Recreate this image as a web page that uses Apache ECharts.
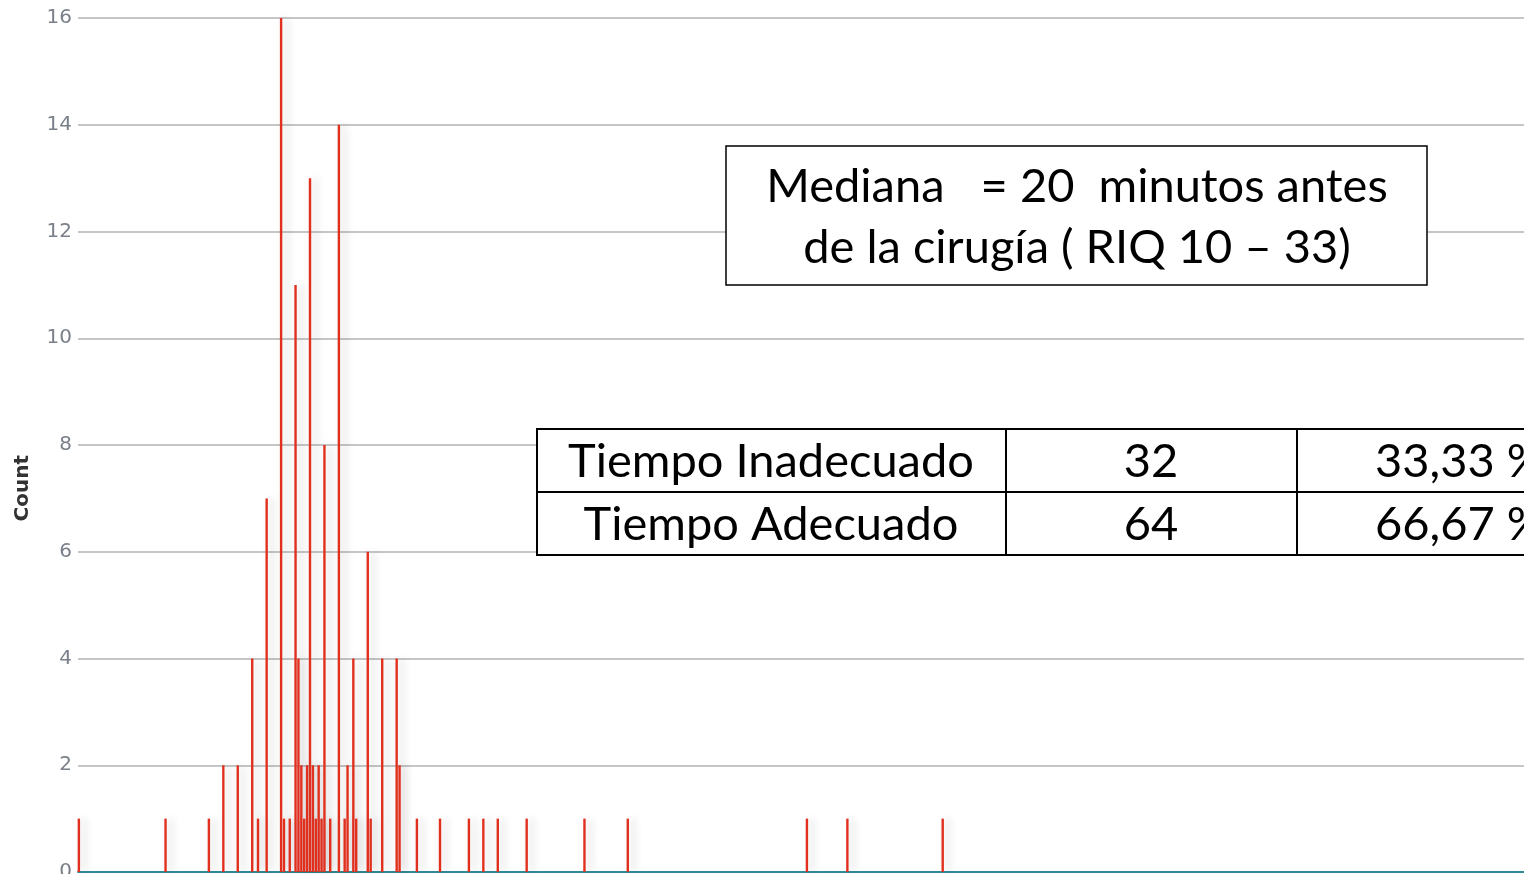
<!DOCTYPE html>
<html>
<head>
<meta charset="utf-8">
<title>Tiempo de profilaxis antes de la cirugía</title>
<script src="https://cdn.jsdelivr.net/npm/echarts/dist/echarts.min.js"></script>
<style>
  html, body { margin: 0; padding: 0; background: #ffffff; }
  #chart { width: 1524px; height: 874px; }
</style>
</head>
<body>
<div id="chart"></div>
<script>
// Minutes before surgery (x) and number of cases at each value (bar height)
const minutes = [-60, -30, -15, -10, -5, 0, 2, 5, 10, 11, 13, 15, 16, 17, 18, 19, 20, 21, 22, 23, 24,
                 25, 27, 30, 32, 33, 35, 36, 40, 41, 45, 50, 51, 57, 65, 75, 80, 85, 95, 115, 130,
                 192, 206, 239];
const counts  = [1, 1, 1, 2, 2, 4, 1, 7, 16, 1, 1, 11, 4, 2, 1, 2, 13, 2, 1, 2, 1,
                 8, 1, 14, 1, 2, 4, 1, 6, 1, 4, 4, 2, 1, 1, 1, 1, 1, 1, 1, 1,
                 1, 1, 1];

// Count axis
const yMin = 0;
const yMax = 16;
const yStep = 2;
const yAxisTitle = 'Count';

// Summary box text
const summaryLines = ['Mediana   = 20  minutos antes', 'de la cirugía ( RIQ 10 – 33)'];

// Adequacy table
const tableLabels = ['Tiempo Inadecuado', 'Tiempo Adecuado'];
const tableCounts = ['32', '64'];
const tablePercents = ['33,33 %', '66,67 %'];

const barData = minutes.map((m, i) => [m, counts[i]]);

const chart = echarts.init(document.getElementById('chart'), null, { renderer: 'canvas' });

const textFont = 'Lato, "Open Sans", sans-serif';
const bigSize = 47;

const graphics = [
  // Count axis title
  {
    type: 'text', left: 13, top: 455, rotation: Math.PI / 2, z: 100,
    style: { text: yAxisTitle, font: 'bold 20px "DejaVu Sans", sans-serif', fill: '#333333' }
  },
  // Summary box
  {
    type: 'rect', z: 100,
    shape: { x: 726, y: 146, width: 701, height: 139 },
    style: { fill: '#ffffff', stroke: '#000000', lineWidth: 1.5 }
  },
  {
    type: 'text', z: 101, x: 1077, y: 187,
    style: { text: summaryLines[0], font: bigSize + 'px ' + textFont, fill: '#000000',
             textAlign: 'center', textVerticalAlign: 'middle' }
  },
  {
    type: 'text', z: 101, x: 1077, y: 248,
    style: { text: summaryLines[1], font: bigSize + 'px ' + textFont, fill: '#000000',
             textAlign: 'center', textVerticalAlign: 'middle' }
  },
  // Table frame and rules
  {
    type: 'rect', z: 100,
    shape: { x: 537, y: 429, width: 1100, height: 126 },
    style: { fill: '#ffffff', stroke: '#000000', lineWidth: 2 }
  },
  {
    type: 'line', z: 101,
    shape: { x1: 537, y1: 492, x2: 1640, y2: 492 },
    style: { stroke: '#000000', lineWidth: 2 }
  },
  {
    type: 'line', z: 101,
    shape: { x1: 1006, y1: 429, x2: 1006, y2: 555 },
    style: { stroke: '#000000', lineWidth: 2 }
  },
  {
    type: 'line', z: 101,
    shape: { x1: 1297, y1: 429, x2: 1297, y2: 555 },
    style: { stroke: '#000000', lineWidth: 2 }
  }
];

const rowY = [462, 525];
tableLabels.forEach((label, i) => {
  graphics.push({
    type: 'text', z: 102, x: 771, y: rowY[i],
    style: { text: label, font: bigSize + 'px ' + textFont, fill: '#000000',
             textAlign: 'center', textVerticalAlign: 'middle' }
  });
  graphics.push({
    type: 'text', z: 102, x: 1151, y: rowY[i],
    style: { text: tableCounts[i], font: bigSize + 'px ' + textFont, fill: '#000000',
             textAlign: 'center', textVerticalAlign: 'middle' }
  });
  graphics.push({
    type: 'text', z: 102, x: 1375, y: rowY[i],
    style: { text: tablePercents[i], font: bigSize + 'px ' + textFont, fill: '#000000',
             textAlign: 'left', textVerticalAlign: 'middle' }
  });
});

chart.setOption({
  animation: false,
  backgroundColor: '#ffffff',
  grid: { left: 78, right: 0, top: 18, bottom: 2, containLabel: false, outerBoundsMode: 'none' },
  xAxis: {
    type: 'value',
    min: -60.3,
    max: 440.2,
    offset: 1,
    axisLine: { show: true, lineStyle: { color: '#2f8a99', width: 2 } },
    axisTick: { show: false },
    axisLabel: { show: false },
    splitLine: { show: false }
  },
  yAxis: {
    type: 'value',
    min: yMin,
    max: yMax,
    interval: yStep,
    axisLine: { show: false },
    axisTick: { show: false },
    axisLabel: {
      margin: 6,
      color: '#7a8089',
      fontSize: 20,
      fontFamily: '"DejaVu Sans", sans-serif'
    },
    splitLine: { show: true, lineStyle: { color: '#c6c6c6', width: 2 } }
  },
  series: [{
    type: 'bar',
    data: barData,
    barWidth: 2.4,
    itemStyle: {
      color: '#e2301f',
      shadowColor: 'rgba(0, 0, 0, 0.2)',
      shadowBlur: 8,
      shadowOffsetX: 5
    }
  }],
  graphic: graphics
});
</script>
</body>
</html>
